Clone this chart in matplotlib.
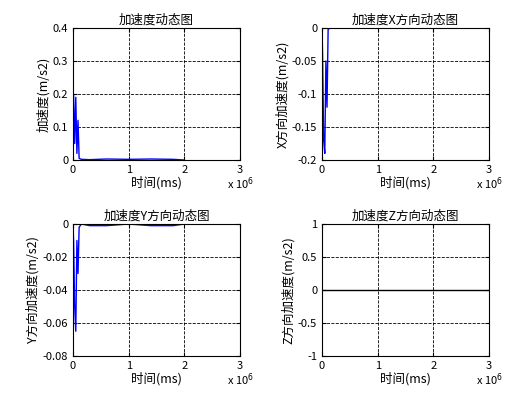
import numpy as np
import matplotlib.pyplot as plt
from matplotlib.ticker import FuncFormatter

plt.rcParams['font.family'] = ['Noto Sans CJK SC', 'DejaVu Sans']
plt.rcParams['font.size'] = 8

# time in ms
t = [0, 0.01e6, 0.03e6, 0.05e6, 0.07e6, 0.09e6, 0.11e6, 0.15e6, 0.3e6, 0.6e6, 1.0e6, 1.4e6, 1.8e6, 2.0e6]
acc = [0, 0.2, 0.05, 0.19, 0.02, 0.12, 0.005, 0.002, 0.001, 0.003, 0.002, 0.003, 0.002, 0]
acc_x = [0, -0.04, -0.17, -0.19, -0.05, -0.12, -0.002, 0, 0, 0, 0, 0, 0, 0]
acc_y = [0, -0.01, -0.05, -0.065, -0.01, -0.03, -0.002, 0, -0.001, -0.001, 0, -0.001, -0.001, 0]
t_z = [0, 3e6]
acc_z = [0, 0]

titles = ['加速度动态图', '加速度X方向动态图', '加速度Y方向动态图', '加速度Z方向动态图']
ylabels = ['加速度(m/s2)', 'X方向加速度(m/s2)', 'Y方向加速度(m/s2)', 'Z方向加速度(m/s2)']
ylims = [(0, 0.4), (-0.2, 0), (-0.08, 0), (-1, 1)]

fig = plt.figure(figsize=(5.22, 4.11), dpi=100)
boxes = [(73, 28), (322, 28), (73, 224), (322, 224)]
w, h = 167, 132
for i, (x0, y0) in enumerate(boxes):
    ax = fig.add_axes([x0 / 522, 1 - (y0 + h) / 411, w / 522, h / 411])
    if i == 0:
        ax.plot(t, acc, color='b', lw=1)
    elif i == 1:
        ax.plot(t, acc_x, color='b', lw=1)
    elif i == 2:
        ax.plot(t, acc_y, color='b', lw=1)
    else:
        ax.plot(t_z, acc_z, color='k', lw=1)
    ax.set_xlim(0, 3e6)
    ax.set_ylim(*ylims[i])
    ax.set_xticks([0, 1e6, 2e6, 3e6])
    ax.set_xticklabels(['0', '1', '2', '3'])
    ax.yaxis.set_major_formatter(FuncFormatter(lambda v, p: '%g' % round(v, 6)))
    ax.text(1.0, -0.12, r'x 10$^6$', transform=ax.transAxes, ha='center', va='top', fontsize=8)
    ax.grid(True, color='k', ls='--', lw=0.6)
    ax.tick_params(direction='in', length=3, top=True, right=True)
    ax.set_title(titles[i], fontsize=9, pad=3)
    ax.set_xlabel('时间(ms)', fontsize=9, labelpad=1)
    ax.set_ylabel(ylabels[i], fontsize=9, labelpad=2)

fig.savefig('out.png', dpi=100)
